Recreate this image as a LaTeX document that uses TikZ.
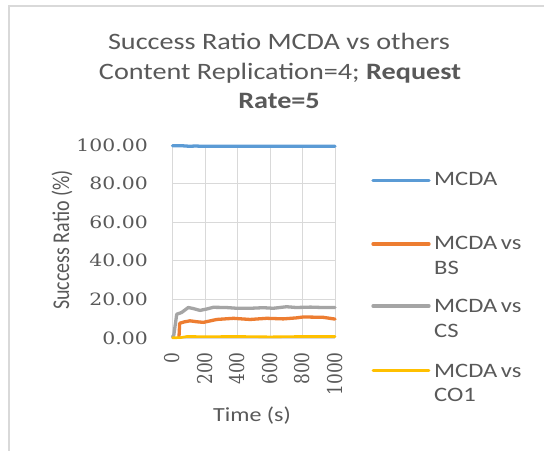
\documentclass[tikz,border=0pt]{standalone}
\usepackage{fontspec}
\usepackage{graphicx}
\setmainfont{Carlito}
\newfontfamily\numfont{DejaVu Serif}
\definecolor{txtgray}{HTML}{595959}
\definecolor{gridgray}{HTML}{D9D9D9}
\definecolor{framegray}{HTML}{D9D9D9}
\definecolor{serblue}{HTML}{5B9BD5}
\definecolor{serorange}{HTML}{ED7D31}
\definecolor{sergray}{HTML}{A5A5A5}
\definecolor{seryellow}{HTML}{FFC000}
% horizontal stretch of the chart text
\newcommand\wide[1]{\scalebox{1.2}[1]{#1}}
\newcommand\widerot[1]{\scalebox{1}[1.2]{#1}}
\newcommand\vs{\hspace{0.14em}vs}
\tikzset{
  gridline/.style={gridgray, line width=0.9bp},
  series/.style={line width=3.3bp, line join=round, line cap=round},
  legline/.style={line width=3.3bp, line cap=round},
  titletext/.style={anchor=base, inner sep=0pt, text=txtgray, font=\fontsize{23.5bp}{28bp}\selectfont},
  legtext/.style={anchor=base west, inner sep=0pt, text=txtgray, font=\fontsize{20.5bp}{24bp}\selectfont},
  ytick/.style={anchor=east, inner sep=0pt, text=txtgray, font=\numfont\fontsize{17bp}{20bp}\selectfont},
  xtick/.style={anchor=east, rotate=90, inner sep=0pt, text=txtgray, font=\numfont\fontsize{17bp}{20bp}\selectfont},
  axlabel/.style={inner sep=0pt, text=txtgray, font=\fontsize{20bp}{24bp}\selectfont}
}
\begin{document}
\begin{tikzpicture}[x=1bp, y=1bp]
\useasboundingbox (0,0) rectangle (544,451);
\fill[white] (0,0) rectangle (544,451);
% chart area border
\draw[framegray, line width=1.6bp] (9,-2) -- (9,445) -- (546,445);

% title
\node[titletext] (t1) at (279,401) {\wide{Success Ratio MCDA vs others}};
\node[titletext] (t2) at (280,371.5) {\wide{Content Replication=4; \textbf{Request}}};
\node[titletext] (t3) at (279,342) {\wide{\textbf{Rate=5}}};

% plot area: x = time (s), y = success ratio (%)
\begin{scope}[shift={(172.5,113)}, x=0.1625bp, y=1.93bp]
  \foreach \v in {0,20,...,100} \draw[gridline] (0,\v) -- (1000,\v);
  \foreach \t in {0,200,...,1000} \draw[gridline] (\t,0) -- (\t,100);

  \foreach \v in {0,20,40,60,80,100}
    \node[ytick] (y\v) at (-151,\v) {\wide{\v.00}};
  \foreach \t in {0,200,400,600,800,1000}
    \node[xtick] (x\t) at (\t,-7.3) {\widerot{\t}};

  % MCDA
  \draw[series, serblue] (0,99.6) -- (60,99.6) -- (110,99.3) -- (140,99.5)
    -- (180,99.3) -- (260,99.3) -- (1000,99.3);
  % MCDA vs CS
  \draw[series, sergray] (0,0.5) -- (8,1.5) -- (26,12.3) -- (56,13.2) -- (97,15.8)
    -- (130,15.2) -- (169,14.3) -- (210,15.0) -- (251,15.9) -- (330,15.8)
    -- (395,15.4) -- (480,15.4) -- (559,15.7) -- (620,15.4) -- (702,16.2)
    -- (760,15.8) -- (850,16.0) -- (920,15.8) -- (1000,15.8);
  % MCDA vs BS
  \draw[series, serorange] (40,0.6) -- (44,7.6) -- (70,8.3) -- (108,8.9)
    -- (150,8.4) -- (190,8.1) -- (272,9.6) -- (375,10.2) -- (477,9.6)
    -- (580,10.2) -- (682,9.9) -- (760,10.4) -- (805,10.9) -- (928,10.7)
    -- (1000,9.8);
  % MCDA vs CO1
  \draw[series, seryellow, line width=2.6bp] (0,0.1) -- (50,0.2) -- (90,0.8)
    -- (200,0.7) -- (400,0.8) -- (600,0.6) -- (800,0.8) -- (1000,0.8);
\end{scope}

% axis titles
\node[axlabel, rotate=90] (ylab) at (62,211) {\widerot{Success Ratio (\%)}};
\node[axlabel, anchor=base] (xlab) at (252,29) {\wide{Time (s)}};

% legend
\coordinate (l1a) at (373,270.3); \coordinate (l1b) at (429,270.3);
\coordinate (l2a) at (373,207);   \coordinate (l2b) at (429,207);
\coordinate (l3a) at (373,145);   \coordinate (l3b) at (429,145);
\coordinate (l4a) at (373,80.3);  \coordinate (l4b) at (429,80.3);
\draw[legline, serblue] (l1a) -- (l1b);
\draw[legline, serorange] (l2a) -- (l2b);
\draw[legline, sergray] (l3a) -- (l3b);
\draw[legline, seryellow, line width=2.6bp] (l4a) -- (l4b);
\node[legtext] (g1) at (434,265) {\wide{MCDA}};
\node[legtext] (g2) at (434,201) {\wide{MCDA\vs}};
\node[legtext] (g2b) at (434,176.5) {\wide{BS}};
\node[legtext] (g3) at (434,138) {\wide{MCDA\vs}};
\node[legtext] (g3b) at (434,113) {\wide{CS}};
\node[legtext] (g4) at (434,73) {\wide{MCDA\vs}};
\node[legtext] (g4b) at (434,49) {\wide{CO1}};
\end{tikzpicture}
\end{document}
